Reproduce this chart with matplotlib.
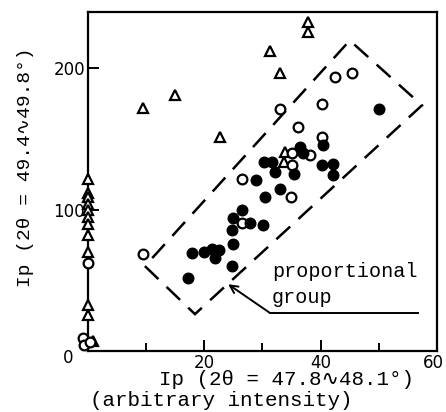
import matplotlib
import numpy as np

matplotlib.use("Agg")
import matplotlib.pyplot as plt  # noqa: E402
import matplotlib.transforms as mtransforms  # noqa: E402
from matplotlib.patches import Polygon  # noqa: E402

# filled circles
filled_x = [50.0, 36.4, 36.9, 40.4, 40.2, 42.1, 42.1, 30.2, 31.6, 32.1, 35.4, 28.9,
            33.0, 30.4, 26.5, 24.9, 27.8, 30.1, 24.7, 24.9, 17.9, 19.9, 21.3, 22.5,
            21.8, 24.7, 17.2]
filled_y = [171.0, 144.2, 139.9, 145.6, 131.4, 132.2, 124.4, 133.6, 133.6, 126.5, 125.1, 120.8,
            114.5, 108.8, 99.6, 94.0, 90.5, 89.0, 85.5, 75.6, 69.3, 70.0, 72.1, 71.4,
            65.7, 60.1, 51.6]

# open circles
open_x = [42.4, 45.4, 40.2, 33.0, 36.1, 40.2, 35.1, 38.1, 35.1, 26.5, 34.9, 26.5,
          9.5, 0.0, -0.8, -0.6, 0.3]
open_y = [194.3, 196.5, 174.6, 171.0, 158.3, 151.2, 139.9, 138.5, 131.4, 121.6, 108.8, 90.5,
          68.6, 62.2, 9.0, 4.0, 6.5]

# open triangles
tri_x = [9.5, 14.9, 22.7, 31.3, 33.0, 37.8, 37.8, 33.8, 33.7,
         0, 0, 0, 0, 0, 0, 0, 0, 0, 0, 0, 0.8]
tri_y = [171.7, 180.9, 151.2, 212.7, 196.5, 233.2, 226.1, 140.6, 133.6,
         122, 112, 109, 104, 100, 95, 90, 82, 70, 32.5, 25.4, 7.0]

# dashed "proportional group" region corners
box_x = [9.8, 18.4, 57.4, 45.0]
box_y = [60.1, 26.1, 173.9, 219.8]

# leader line: arrow tip, bend, end
lead_x = [24.1, 31.3, 56.7]
lead_y = [47.3, 26.9, 26.9]

MONO = ["Liberation Mono", "DejaVu Sans Mono", "DejaVu Sans"]

fig = plt.figure(figsize=(4.46, 4.12), dpi=100)
ax = fig.add_axes([0.197, 0.148, 0.783, 0.823])

mk = dict(linestyle="none", markersize=7, markeredgewidth=1.6, markeredgecolor="black", clip_on=False)
ax.plot(tri_x, tri_y, marker="^", markerfacecolor="white", zorder=3, **mk)
ax.plot(open_x, open_y, marker="o", markerfacecolor="white", zorder=3, **mk)
ax.plot(filled_x, filled_y, marker="o", markerfacecolor="black", zorder=4, **mk)

box = Polygon(np.column_stack([box_x, box_y]), closed=True, fill=False,
              edgecolor="black", linewidth=1.8, linestyle=(0, (7.5, 4.5)))
ax.add_patch(box)

ax.plot(lead_x[1:], lead_y[1:], color="black", linewidth=1.4)
ax.annotate("", xy=(lead_x[0], lead_y[0]), xytext=(lead_x[1], lead_y[1]),
            arrowprops=dict(arrowstyle="->", color="black", linewidth=1.4,
                            shrinkA=0, shrinkB=0, mutation_scale=14))
ax.text(31.6, 56, "proportional", family=MONO, fontsize=14.5, va="center", ha="left")
ax.text(31.6, 38, "group", family=MONO, fontsize=14.5, va="center", ha="left")

ax.set_xlim(0, 60)
ax.set_ylim(0, 240)
ax.set_xticks([20, 40, 60])
ax.set_xticks([10, 30, 50], minor=True)
ax.set_yticks([0, 100, 200])
ax.tick_params(which="both", direction="in", width=1.4, labelsize=12, pad=2)
ax.tick_params(which="major", length=8)
ax.tick_params(which="minor", length=6)
for s in ax.spines.values():
    s.set_linewidth(1.6)

# pull the "60" label in so it stays on the canvas, push the "0" clear of the markers
last = ax.get_xticklabels()[-1]
last.set_transform(last.get_transform() + mtransforms.ScaledTranslation(-4 / 100, 0, fig.dpi_scale_trans))
zero = ax.get_yticklabels()[0]
zero.set_transform(zero.get_transform() + mtransforms.ScaledTranslation(-12 / 100, -5 / 100, fig.dpi_scale_trans))

fig.text(0.643, 0.078, "Ip (2θ = 47.8∿48.1°)", family=MONO, fontsize=15, ha="center", va="center")
fig.text(0.497, 0.028, "(arbitrary intensity)", family=MONO, fontsize=15, ha="center", va="center")
fig.text(0.058, 0.595, "Ip (2θ = 49.4∿49.8°)", family=MONO, fontsize=14, ha="center", va="center",
         rotation=90)

fig.savefig("out.png")
